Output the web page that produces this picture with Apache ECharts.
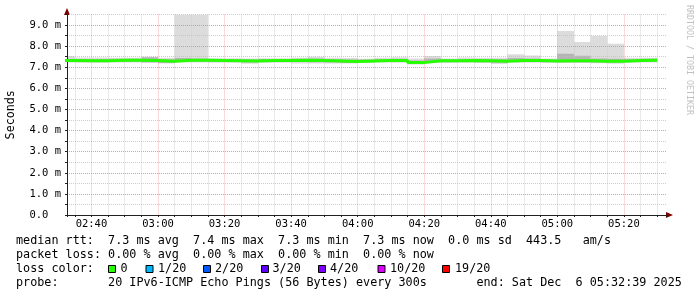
<!DOCTYPE html>
<html><head><meta charset="utf-8">
<script src="https://cdn.jsdelivr.net/npm/echarts@6/dist/echarts.min.js"></script>
<style>html,body{margin:0;padding:0;background:#fff}#c{width:697px;height:297px}</style>
</head><body><div id="c"></div><script>
// ---- data (5-minute bins, values in ms) ----
const binStarts = ['02:30','02:35','02:40','02:45','02:50','02:55','03:00','03:05','03:10','03:15','03:20','03:25',
  '03:30','03:35','03:40','03:45','03:50','03:55','04:00','04:05','04:10','04:15','04:20','04:25',
  '04:30','04:35','04:40','04:45','04:50','04:55','05:00','05:05','05:10','05:15','05:20','05:25'];
const median = [7.32,7.31,7.31,7.33,7.33,7.32,7.29,7.33,7.33,7.32,7.31,7.30,
  7.32,7.32,7.33,7.32,7.30,7.27,7.30,7.32,7.32,7.22,7.31,7.31,
  7.32,7.31,7.29,7.32,7.32,7.30,7.31,7.31,7.28,7.29,7.32,7.33];
const smokeMax = [7.53,7.46,7.46,7.45,7.45,7.50,7.45,9.80,9.80,7.43,7.43,7.41,
  7.43,7.43,7.45,7.50,7.45,7.44,7.40,7.45,7.47,7.41,7.53,7.41,
  7.46,7.45,7.45,7.62,7.56,7.41,8.72,8.20,8.48,8.12,7.45,7.45];
const smokeMin = [7.22,7.21,7.21,7.22,7.22,7.20,7.18,7.22,7.22,7.21,7.21,7.17,
  7.21,7.21,7.18,7.18,7.18,7.18,7.21,7.22,7.21,7.13,7.21,7.21,
  7.21,7.20,7.15,7.21,7.21,7.21,7.20,7.20,7.19,7.17,7.21,7.22];
const coreHi = [7.40,7.39,7.39,7.40,7.40,7.47,7.38,7.44,7.42,7.39,7.38,7.37,
  7.39,7.39,7.40,7.42,7.38,7.37,7.37,7.39,7.40,7.32,7.42,7.38,
  7.39,7.39,7.38,7.44,7.42,7.37,7.64,7.55,7.42,7.40,7.39,7.40];
const coreLo = [7.25,7.25,7.25,7.26,7.26,7.24,7.20,7.26,7.26,7.25,7.25,7.23,
  7.25,7.25,7.25,7.24,7.23,7.20,7.24,7.25,7.25,7.16,7.24,7.24,
  7.25,7.24,7.21,7.25,7.25,7.24,7.24,7.24,7.22,7.22,7.25,7.26];
const xTickLabels = ['02:40','03:00','03:20','03:40','04:00','04:20','04:40','05:00','05:20'];
const yTickLabels = ['0.0  ','1.0 m','2.0 m','3.0 m','4.0 m','5.0 m','6.0 m','7.0 m','8.0 m','9.0 m'];
const viewStart = '02:32:39', viewEnd = '05:32:39';
const stepMinutes = 5;
const legendLines = [
  'median rtt:  7.3 ms avg  7.4 ms max  7.3 ms min  7.3 ms now  0.0 ms sd  443.5   am/s',
  'packet loss: 0.00 % avg  0.00 % max  0.00 % min  0.00 % now',
  'loss color:',
  'probe:       20 IPv6-ICMP Echo Pings (56 Bytes) every 300s       end: Sat Dec  6 05:32:39 2025'
];
const lossLabels = ['0','1/20','2/20','3/20','4/20','10/20','19/20'];
const lossColors = ['#26ff00','#00b8ff','#0059ff','#5e00ff','#7e00ff','#dd00ff','#ff0000'];

// ---- helpers ----
function toMin(t){const p=t.split(':').map(Number);return p[0]*60+p[1]+(p[2]||0)/60;}
function fmtMin(v){const h=Math.floor(v/60),m=Math.round(v-h*60);return String(h).padStart(2,'0')+':'+String(m).padStart(2,'0');}
const FONT = '"DejaVu Sans Mono", monospace';
const GRID = 'rgba(192,192,192,0.8)', MGRID = 'rgba(240,120,120,0.8)';
const VGRID = 'rgba(192,192,192,0.7)', VMGRID = 'rgba(240,120,120,0.55)';

function rectItem(color){
  return function(params, api){
    const p1 = api.coord([api.value(0), api.value(3)]);
    const p2 = api.coord([api.value(1), api.value(2)]);
    const cs = params.coordSys;
    const r = echarts.graphic.clipRectByRect(
      {x:p1[0], y:p1[1], width:p2[0]-p1[0], height:p2[1]-p1[1]},
      {x:cs.x, y:cs.y, width:cs.width, height:cs.height});
    return r && {type:'rect', shape:r, style:{fill:color}};
  };
}
const smokeData = binStarts.map((t,i)=>[toMin(t), toMin(t)+stepMinutes, smokeMin[i], smokeMax[i]]);
const coreData = binStarts.map((t,i)=>[toMin(t), toMin(t)+stepMinutes, coreLo[i], coreHi[i]]);
const medianData = binStarts.map((t,i)=>[toMin(t), median[i]]);
medianData.push([toMin(binStarts[binStarts.length-1])+stepMinutes, median[median.length-1]]);

const xMin = toMin(viewStart), xMax = toMin(viewEnd);

// legend graphics
const LFONT = '11.77px '+FONT;
const rowY = [241, 255, 269, 283];
const graphic = legendLines.map((txt,i)=>({type:'text', x:16, y:rowY[i], z:10,
  style:{text:txt, font:LFONT, fill:'#000', verticalAlign:'middle'}}));
const boxX = [108.5, 146, 203.5, 261.5, 318.5, 378, 442.5];
const lblX = [120.5, 158, 215, 272.5, 330, 390, 455];
lossLabels.forEach((l,i)=>{
  graphic.push({type:'rect', z:10, shape:{x:boxX[i], y:265.5, width:7, height:7},
    style:{fill:lossColors[i], stroke:'#000', lineWidth:1}});
  graphic.push({type:'text', x:lblX[i], y:269, z:10,
    style:{text:l, font:LFONT, fill:'#000', verticalAlign:'middle'}});
});
graphic.push({type:'text', x:689, y:5, rotation:-Math.PI/2, z:10,
  style:{text:'RRDTOOL / TOBI OETIKER', font:'8.3px '+FONT, fill:'#c0c0c0', verticalAlign:'middle'}});

const chart = echarts.init(document.getElementById('c'), null, {renderer:'canvas'});
chart.setOption({
  animation:false,
  backgroundColor:'#fff',
  grid:{left:67, right:31, top:14.5, bottom:82, containLabel:false, outerBoundsMode:'none'},
  xAxis:[{
    type:'value', position:'bottom', min:xMin, max:xMax, minInterval:5, maxInterval:5, z:4,
    axisLine:{show:true, onZero:false, lineStyle:{color:'#212121', width:1}},
    axisTick:{show:true, length:2, lineStyle:{color:'#212121'}},
    axisLabel:{show:true, margin:4, color:'#000', fontFamily:FONT, fontSize:10.5, hideOverlap:false,
      showMinLabel:true, showMaxLabel:true,
      formatter:v=>{const s=fmtMin(v);return (Math.abs(v-Math.round(v))<1e-6 && xTickLabels.includes(s))?s:'';}},
    splitLine:{show:true, showMinLine:false, showMaxLine:false,
      lineStyle:{color:[VGRID, VMGRID, VGRID, VGRID], type:'dotted', width:1}}
  },{
    type:'value', position:'bottom', min:xMin, max:xMax, z:3,
    axisLine:{show:true, onZero:false, symbol:['none','triangle'], symbolSize:[6,7], symbolOffset:[0,3.5],
      lineStyle:{color:'#800000', width:1}},
    axisTick:{show:false}, axisLabel:{show:false}, splitLine:{show:false}
  }],
  yAxis:[{
    type:'value', position:'left', min:0, max:9.5, interval:0.5, z:4,
    name:'Seconds', nameLocation:'middle', nameGap:50, nameRotate:90,
    nameTextStyle:{fontFamily:FONT, fontSize:11.7, color:'#000'},
    axisLine:{show:true, onZero:false, lineStyle:{color:'#212121', width:1}},
    axisTick:{show:true, length:2, lineStyle:{color:'#212121'}},
    axisLabel:{show:true, margin:6, color:'#000', fontFamily:FONT, fontSize:10.5,
      formatter:v=>{const k=Math.round(v*2);return (k%2===0)?(yTickLabels[k/2]||''):'';}},
    splitLine:{show:true, showMinLine:false, showMaxLine:true,
      lineStyle:{color:[GRID, MGRID], type:'dotted', width:1}}
  },{
    type:'value', position:'left', min:0, max:9.5, z:3,
    axisLine:{show:true, onZero:false, symbol:['none','triangle'], symbolSize:[6,7], symbolOffset:[0,3],
      lineStyle:{color:'#800000', width:1}},
    axisTick:{show:false}, axisLabel:{show:false}, splitLine:{show:false}
  }],
  series:[
    {type:'custom', name:'smoke', xAxisIndex:0, yAxisIndex:0, z:1, clip:true,
     renderItem:rectItem('#dcdcdc'), encode:{x:[0,1], y:[2,3]}, data:smokeData},
    {type:'custom', name:'core', xAxisIndex:0, yAxisIndex:0, z:1, clip:true,
     renderItem:rectItem('#b4b4b4'), encode:{x:[0,1], y:[2,3]}, data:coreData},
    {type:'line', name:'median', xAxisIndex:0, yAxisIndex:0, z:6, step:'end', showSymbol:false, symbol:'none',
     clip:true, lineStyle:{color:'#26ff00', width:3}, data:medianData}
  ],
  graphic:graphic
});
</script></body></html>
